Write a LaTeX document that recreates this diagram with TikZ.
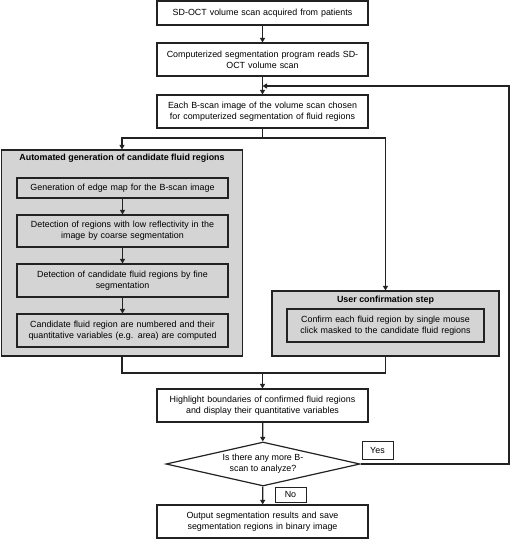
\documentclass[tikz,border=0pt]{standalone}
\usepackage{fontspec}
\setmainfont{Liberation Sans}
\usetikzlibrary{arrows.meta,shapes.geometric}
\definecolor{boxgray}{HTML}{D4D4D4}
\definecolor{linec}{HTML}{222222}
\tikzset{
  x=1pt,y=-1pt,
  every node/.style={font=\fontsize{8.9}{10.8}\selectfont, text=black},
  wbox/.style={draw=linec, line width=1.2pt, fill=white, minimum width=211pt, minimum height=33pt, text width=207pt, align=center, inner sep=0pt},
  gbox/.style={wbox, fill=boxgray},
  grp/.style={draw=linec, line width=1.2pt, fill=boxgray, inner sep=0pt},
  ttl/.style={font=\fontsize{8.9}{10.8}\selectfont\bfseries},
  lbl/.style={draw=linec, line width=1pt, fill=white, inner sep=0pt},
  arr/.style={draw=linec, line width=1.2pt, -{Triangle[width=5pt,length=4.5pt]}},
  ln/.style={draw=linec, line width=1.2pt},
}
\begin{document}
\begin{tikzpicture}
\useasboundingbox (0,0) rectangle (510,539);
% main column
\node[wbox, minimum height=24pt] (b1) at (262.5,13) {SD-OCT volume scan acquired from patients};
\node[wbox] (b2) at (262.5,59.5) {Computerized segmentation program reads SD-\\OCT volume scan};
\node[wbox] (b3) at (262.5,111.5) {Each B-scan image of the volume scan chosen\\for computerized segmentation of fluid regions};
% left group
\node[grp, minimum width=241pt, minimum height=206pt] (gA) at (122,253) {};
\node[ttl] (tA) at (122,158) {Automated generation of candidate fluid regions};
\node[gbox, minimum height=20pt] (a1) at (122.5,188) {Generation of edge map for the B-scan image};
\node[gbox, minimum height=32pt] (a2) at (122.5,231) {Detection of regions with low reflectivity in the\\image by coarse segmentation};
\node[gbox] (a3) at (122.5,280.5) {Detection of candidate fluid regions by fine\\segmentation};
\node[gbox] (a4) at (122.5,330.5) {Candidate fluid region are numbered and their\\quantitative variables (e.g. area) are computed};
% right group
\node[grp, minimum width=227pt, minimum height=65pt] (gU) at (385.5,323.5) {};
\node[ttl] (tU) at (385.5,300) {User confirmation step};
\node[gbox, minimum width=197pt, text width=193pt] (u1) at (385.5,325.5) {Confirm each fluid region by single mouse\\click masked to the candidate fluid regions};
% lower column
\node[wbox] (hl) at (262.5,405.5) {Highlight boundaries of confirmed fluid regions\\and display their quantitative variables};
\node[diamond, draw=linec, line width=1.2pt, fill=white, minimum width=194pt, minimum height=44pt, inner sep=0pt, aspect=4.4, align=center] (dq) at (263,464) {Is there any more B-\\scan to analyze?};
\node[wbox] (out) at (262.5,521.5) {Output segmentation results and save\\segmentation regions in binary image};
\node[lbl, minimum width=31pt, minimum height=18pt] (yes) at (377.5,450) {Yes};
\node[lbl, minimum width=31pt, minimum height=15pt] (no) at (290.5,494.5) {No};
% coordinates
\coordinate (fb) at (262.5,86);
\coordinate (split) at (262.5,138);
\coordinate (join) at (262.5,373);
\coordinate (rc) at (509,464);
% connectors
\draw[arr] (b1) -- (b2);
\draw[arr] (b2) -- (b3);
\draw[ln] (b3) -- (split);
\draw[arr] (split) -| (gA.north);
\draw[arr] (split) -| (gU.north);
\draw[arr] (a1) -- (a2);
\draw[arr] (a2) -- (a3);
\draw[arr] (a3) -- (a4);
\draw[ln] (gA.south) |- (join);
\draw[ln] (gU.south) |- (join);
\draw[arr] (join) -- (hl);
\draw[arr] (hl) -- (dq);
\draw[arr] (dq) -- (out);
\draw[arr] (dq.east) -- (rc) |- (fb);
\end{tikzpicture}
\end{document}
